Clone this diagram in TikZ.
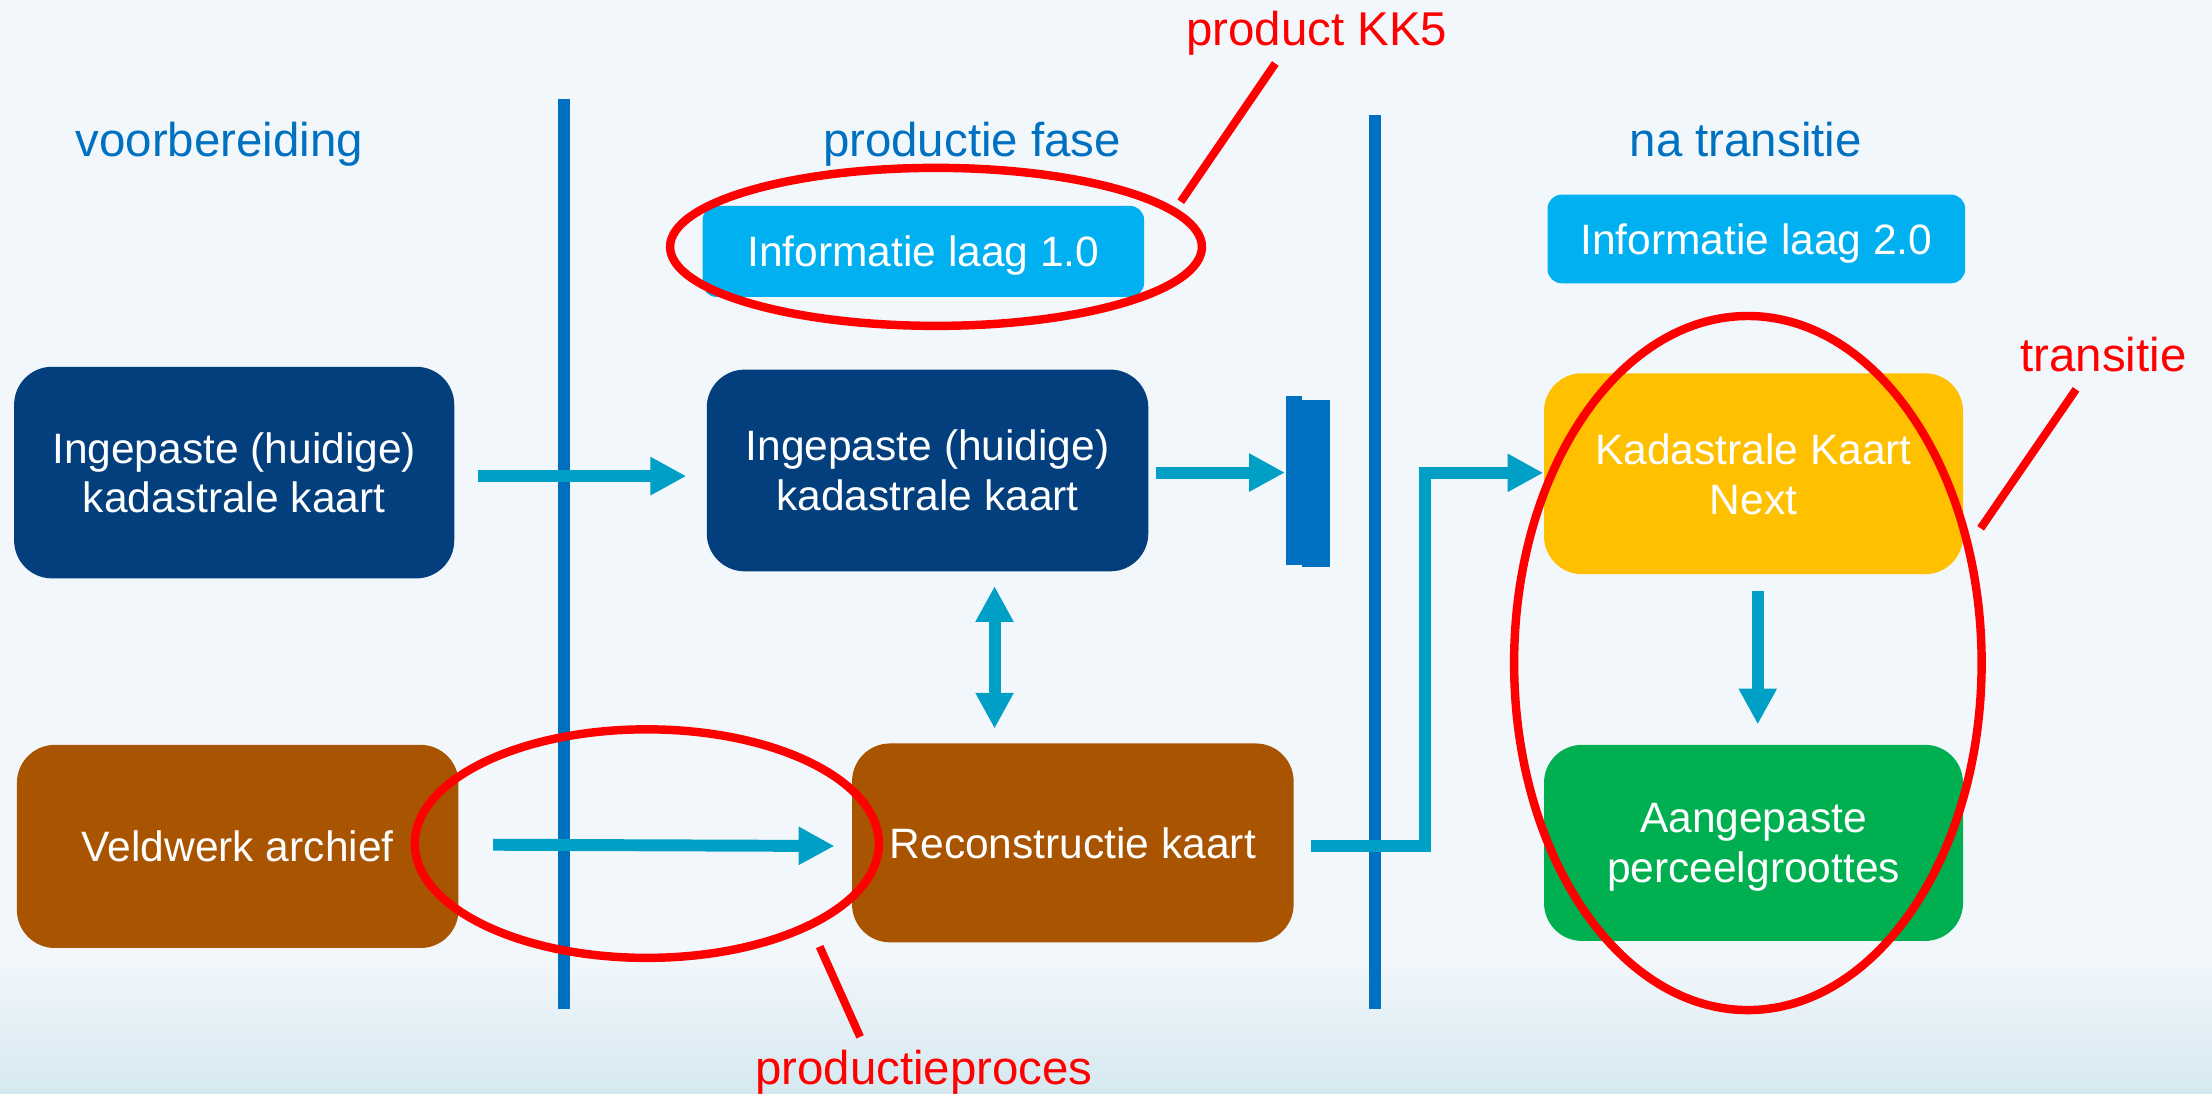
\documentclass[tikz,border=0pt]{standalone}
\usepackage{fontspec}
\setmainfont{Liberation Sans}
\usetikzlibrary{arrows.meta,calc,shapes.geometric}
\definecolor{bgtop}{HTML}{F2F7FB}
\definecolor{bgbot}{HTML}{D5E8F0}
\definecolor{sepline}{HTML}{0070C0}
\definecolor{dkbluebox}{HTML}{023F7C}
\definecolor{brownbox}{HTML}{A85400}
\definecolor{goldbox}{HTML}{FFC000}
\definecolor{greenbox}{HTML}{00B050}
\definecolor{ltbluebox}{HTML}{00B0F0}
\definecolor{arrowcol}{HTML}{00A0C6}
\definecolor{hdrcol}{HTML}{0070C0}
\definecolor{redcol}{HTML}{FF0000}
\newdimen\dpx \dpx=0.0141071cm
\begin{document}
\begin{tikzpicture}[x=0.0141071cm, y=-0.0141071cm,
  sz/.style 2 args={minimum width={#1*\dpx}, minimum height={#2*\dpx}},
  box/.style={rectangle, rounded corners=10.8pt, inner sep=0pt, text=white, align=center,
    font=\fontsize{12.1}{14.2}\selectfont, text depth=0pt},
  infobox/.style={box, rounded corners=4pt, fill=ltbluebox},
  hdr/.style={anchor=base, inner sep=0pt, text=hdrcol, font=\fontsize{13.5}{16}\selectfont},
  redlbl/.style={anchor=base, inner sep=0pt, text=redcol, font=\fontsize{13.5}{16}\selectfont},
  redell/.style={ellipse, draw=redcol, line width=2.4pt, inner sep=0pt},
  redline/.style={draw=redcol, line width=2.3pt},
  sep/.style={draw=sepline, line width=3.4pt},
  barpart/.style={rectangle, fill=sepline, inner sep=0pt},
  arr/.style={draw=arrowcol, line width=3.4pt, -{Triangle[length=10.2pt,width=10.2pt]}},
  darr/.style={draw=arrowcol, line width=3.4pt, {Triangle[length=10.2pt,width=10.2pt]}-{Triangle[length=10.2pt,width=10.2pt]}}
]
\useasboundingbox (0,0) rectangle (1568,775.5);
% background
\fill[bgtop] (0,0) rectangle (1568,775.5);
\shade[top color=bgtop, bottom color=bgbot] (0,680) rectangle (1568,775.5);

% separators
\draw[sep] (399.5,70) -- (399.5,715);
\draw[sep] (974.7,81.5) -- (974.7,715);

% headers
\node[hdr] (h1) at (155.5,110.6) {voorbereiding};
\node[hdr] (h2) at (689,110.6) {productie fase};
\node[hdr] (h3) at (1237.5,110.6) {na transitie};

% info boxes
\node[infobox, sz={313}{64.5}] (i1) at (654.5,178.25) {Informatie laag 1.0};
\node[infobox, sz={296}{62.8}] (i2) at (1245,169.4) {Informatie laag 2.0};

% main boxes
\node[box, fill=dkbluebox, sz={312}{150}] (b1) at (166,335) {Ingepaste (huidige)\\kadastrale kaart};
\node[box, fill=dkbluebox, sz={313}{143}] (b2) at (657.5,333.5) {Ingepaste (huidige)\\kadastrale kaart};
\node[box, fill=brownbox, sz={313}{144}] (b3) at (168.5,600) {Veldwerk archief};
\node[box, fill=brownbox, sz={313}{141}] (b4) at (760.5,597.5) {Reconstructie kaart};
\node[box, fill=goldbox, sz={297}{142.4}] (b5) at (1243,335.8) {Kadastrale Kaart\\Next};
\node[box, fill=greenbox, sz={297}{139}] (b6) at (1243,597.5) {Aangepaste\\perceelgroottes};

% barrier
\node[barpart, sz={20.3}{118.5}] (barB) at (932.85,342.75) {};
\node[barpart, sz={11.3}{120}] (barA) at (917,340.5) {};

% arrows
\draw[arr] ($(b1.east)+(16,2.5)$) -- ($(b2.west)+(-14,4)$);
\draw[arr] ($(b2.east)+(5,1.5)$) -- ($(barA.west)+(0,-5.5)$);
\draw[darr] ($(b2.south)+(47.5,10)$) -- ($(b4.north)+(-55.5,-10)$);
\draw[arr] ($(b3.east)+(24,-1.2)$) -- ($(b4.west)+(-12,2.2)$);
\draw[arr] ($(b4.east)+(11.6,2.2)$) -- ++(80.9,0) |- ($(b5.west)+(0,-0.6)$);
\draw[arr] ($(b5.south)+(3,11.7)$) -- ($(b6.north)+(3,-14)$);

% red annotations
\node[redell, sz={377}{112}] (e1) at (663.5,175) {};
\node[redell, sz={329}{162}] (e2) at (458.5,598) {};
\node[redell, sz={331.4}{492}] (e3) at (1239,470) {};
\node[redlbl] (kk5) at (933.5,32) {product KK5};
\node[redlbl] (pp) at (655,769) {productieproces};
\node[redlbl] (tr) at (1491,263.5) {transitie};
\coordinate (l1a) at (837,143);
\coordinate (l1b) at (904,45);
\coordinate (l2a) at (581,671);
\coordinate (l2b) at (609.7,735);
\coordinate (l3a) at (1404,374.5);
\coordinate (l3b) at (1471.6,276);
\draw[redline] (l1a) -- (l1b);
\draw[redline] (l2a) -- (l2b);
\draw[redline] (l3a) -- (l3b);
\end{tikzpicture}
\end{document}
